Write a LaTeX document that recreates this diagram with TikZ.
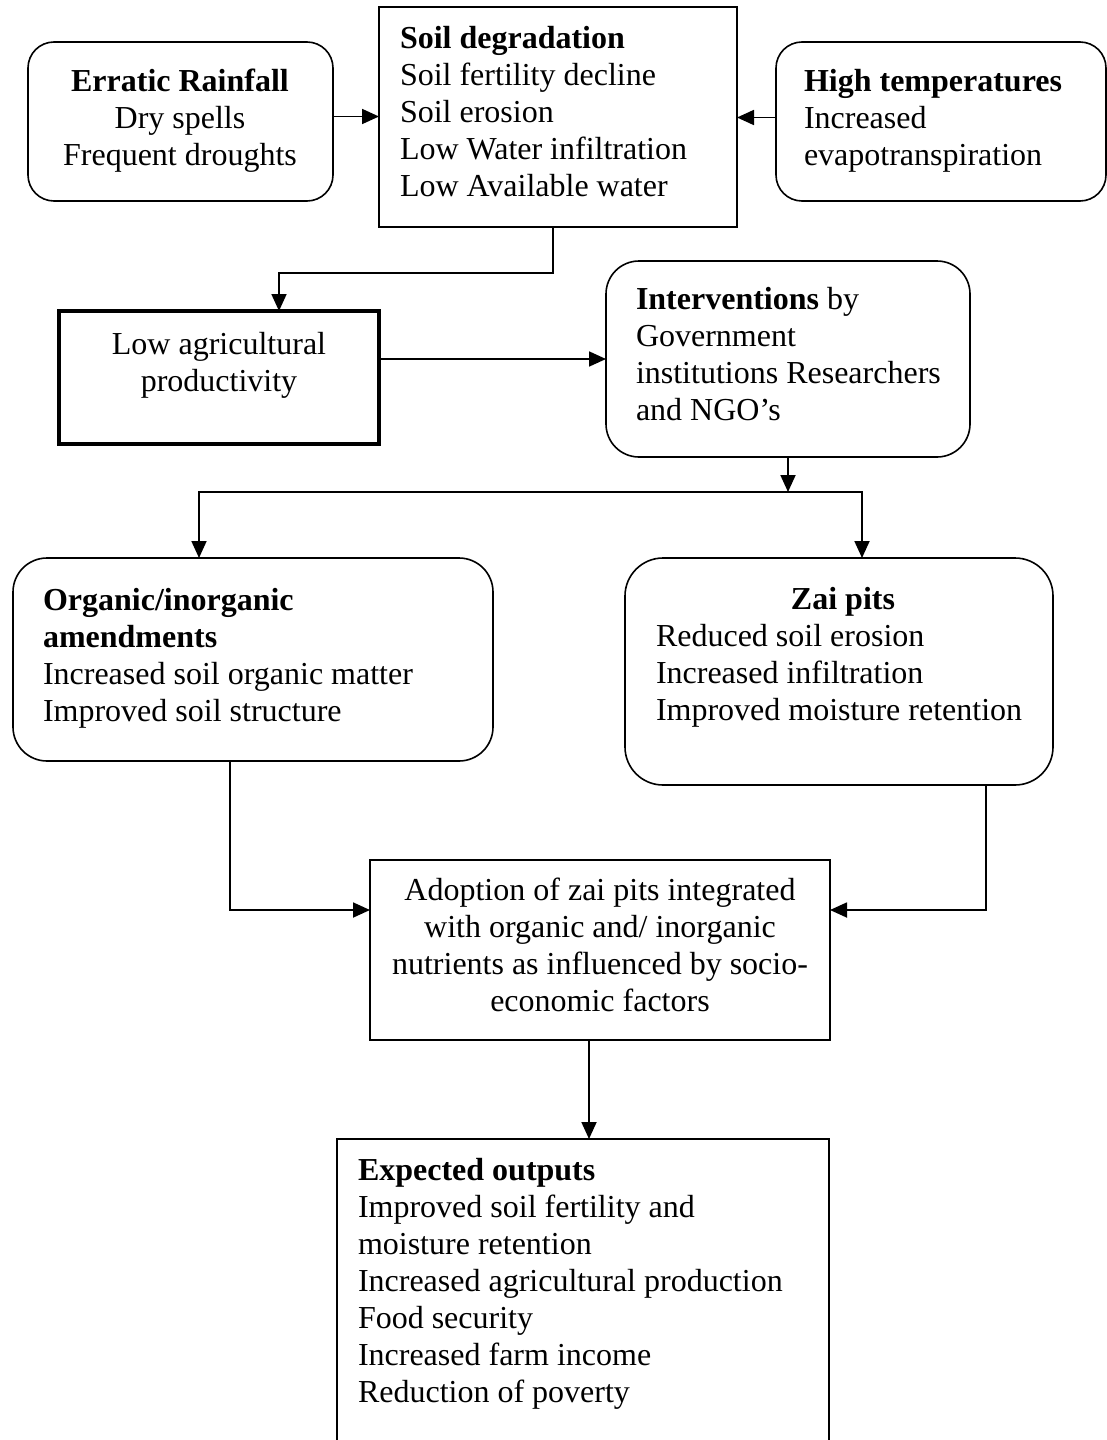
\documentclass[tikz,border=0pt]{standalone}
\usepackage{fontspec}
\setmainfont{Liberation Serif}
\usetikzlibrary{arrows.meta}
\begin{document}
\begin{tikzpicture}[x=1pt,y=-1pt,
  every node/.style={font=\fontsize{32}{37}\selectfont},
  box/.style={draw, line width=1.6pt, inner sep=0pt, outer sep=0pt, anchor=north west},
  txt/.style={inner sep=0pt, outer sep=0pt, align=left, anchor=north west},
  arr/.style={line width=1.8pt, -{Triangle[length=17pt,width=15pt]}}]
\useasboundingbox (0,0) rectangle (1107,1440);
\clip (0,0) rectangle (1107,1440);

% boxes
\node[box, rounded corners=26pt, minimum width=305pt, minimum height=159pt] (rain) at (28,42) {};
\node[box, minimum width=358pt, minimum height=220pt] (soil) at (379,7) {};
\node[box, rounded corners=26pt, minimum width=330pt, minimum height=159pt] (high) at (776,42) {};
\node[box, line width=3.5pt, minimum width=320pt, minimum height=133pt] (low) at (59,311) {};
\node[box, rounded corners=33pt, minimum width=364pt, minimum height=196pt] (int) at (606,261) {};
\node[box, rounded corners=34pt, minimum width=480pt, minimum height=203pt] (org) at (13,558) {};
\node[box, rounded corners=38pt, minimum width=428pt, minimum height=227pt] (zai) at (625,558) {};
\node[box, minimum width=460pt, minimum height=180pt] (adopt) at (370,860) {};
\node[box, minimum width=492pt, minimum height=320pt] (exp) at (337,1139) {};

% texts
\node[txt, align=center, anchor=north] (rainT) at (180,66)
  {\strut\textbf{Erratic Rainfall}\\Dry spells\\Frequent droughts};
\node[txt] (soilT) at (400,23)
  {\strut\textbf{Soil degradation}\\Soil fertility decline\\Soil erosion\\Low Water infiltration\\Low Available water};
\node[txt] (highT) at (804,66)
  {\strut\textbf{High temperatures}\\Increased\\evapotranspiration};
\node[txt, align=center, anchor=north] (lowT) at (219,329)
  {\strut Low agricultural\\productivity};
\node[txt] (intT) at (636,284)
  {\strut\textbf{Interventions} by\\Government\\institutions Researchers\\and NGO’s};
\node[txt] (orgT) at (43,585)
  {\strut\textbf{Organic/inorganic}\\\textbf{amendments}\\Increased soil organic matter\\Improved soil structure};
\node[txt] (zaiT) at (656,584)
  {\strut\makebox[374pt]{\textbf{Zai pits}}\\Reduced soil erosion\\Increased infiltration\\Improved moisture retention};
\node[txt, align=center, anchor=north] (adoptT) at (600,875)
  {\strut Adoption of zai pits integrated\\with organic and/ inorganic\\nutrients as influenced by socio-\\economic factors};
\node[txt] (expT) at (358,1155)
  {\strut\textbf{Expected outputs}\\Improved soil fertility and\\moisture retention\\Increased agricultural production\\Food security\\Increased farm income\\Reduction of poverty};

% connectors
\draw[arr] ([yshift=5pt]rain.east) coordinate (r1) -- (r1 -| soil.west);
\draw[arr] ([yshift=4pt]high.west) coordinate (h1) -- (h1 -| soil.east);
\draw[arr] ([xshift=-5pt]soil.south) -- ++(0,46) -| ([xshift=60pt]low.north);
\draw[arr] (low.east |- int.west) -- (int.west);
\draw[arr] (int.south) -- ++(0,35) coordinate (j);
\draw[arr] (j) -| ([xshift=-54pt]org.north);
\draw[arr] (j) -| ([xshift=23pt]zai.north);
\draw[arr] ([xshift=-23pt]org.south) |- ([yshift=40pt]adopt.west);
\draw[arr] ([xshift=147pt]zai.south) |- ([yshift=40pt]adopt.east);
\draw[arr] ([xshift=-11pt]adopt.south) coordinate (a1) -- (a1 |- exp.north);
\end{tikzpicture}
\end{document}
